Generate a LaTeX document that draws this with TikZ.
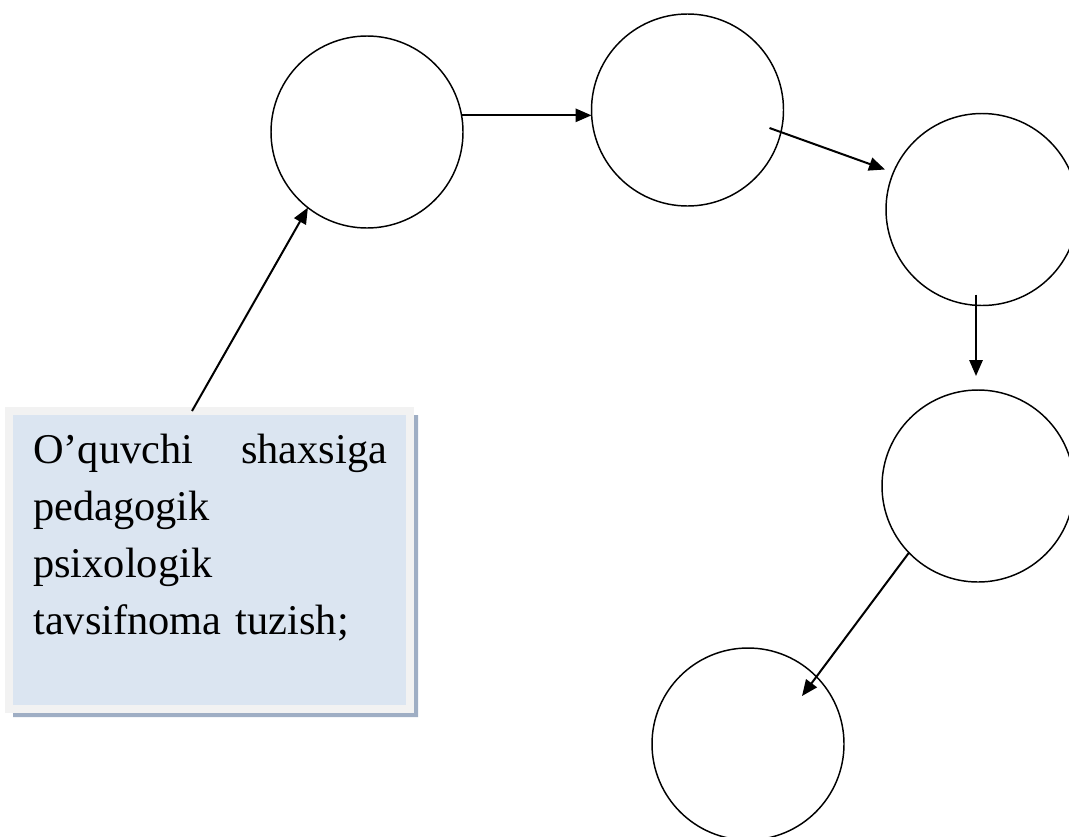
\documentclass[tikz,border=0pt]{standalone}
\usepackage{fontspec}
\setmainfont{Liberation Serif}
\usetikzlibrary{arrows.meta,calc}
\definecolor{ink}{HTML}{000000}
\definecolor{noteblue}{HTML}{DBE5F1}
\definecolor{noteframe}{HTML}{F2F2F2}
\definecolor{noteshadow}{HTML}{9FAEC4}
\tikzset{
  >={Triangle[length=12pt,width=10pt]},
  stage/.style={circle,draw=ink,line width=1.1pt,minimum size=144pt,inner sep=0pt,outer sep=0pt},
  arrow/.style={->,line width=1.5pt,draw=ink},
  notebox/.style={draw=noteframe,line width=6pt,fill=noteblue,minimum width=300.75pt,minimum height=223.5pt,inner sep=0pt,outer sep=0pt},
  notetext/.style={font=\fontsize{31.8}{42.75}\selectfont,text=ink,align=left,text width=265.5pt,inner sep=0pt,anchor=north west},
}

\begin{document}
\begin{tikzpicture}[x=0.75pt,y=-0.75pt]
  \useasboundingbox (0,0) rectangle (1069,836);
  \clip (0,0) rectangle (1069,836);

  \node[stage] (c1) at (367,132) {};
  \node[stage] (c2) at (687.5,110) {};
  \node[stage] (c3) at (982,209.5) {};
  \node[stage] (c4) at (978,486) {};
  \node[stage] (c5) at (748,744) {};

  \node[notebox] (note) at (209.5,560) {};
  \fill[noteshadow] ([shift={(4,4)}]note.north east) -- ([shift={(8,4)}]note.north east)
    -- ([shift={(8,8)}]note.south east) -- ([shift={(4,8)}]note.south west)
    -- ([shift={(4,4)}]note.south west) -- ([shift={(4,4)}]note.south east) -- cycle;
  \node[notetext] (notetxt) at ([shift={(24,23)}]note.north west)
    {\hbox to 265.5pt{O’quvchi\hfill shaxsiga}\\pedagogik\\psixologik\\tavsifnoma tuzish;};

  \draw[arrow] ($(note.north west)+(183,0)$) -- (c1.232);
  \draw[arrow] (c1.10) -- (c1.10 -| c2.west);
  \draw[arrow] ($(c2.center)+(82,18)$) -- ($(c3.center)+(-97,-40)$);
  \draw[arrow] ($(c3.south)+(-6,-11)$) -- ($(c4.north)+(-2,-14)$);
  \draw[arrow] (c4.224) -- ($(c5.center)+(54,-48)$);
\end{tikzpicture}
\end{document}
